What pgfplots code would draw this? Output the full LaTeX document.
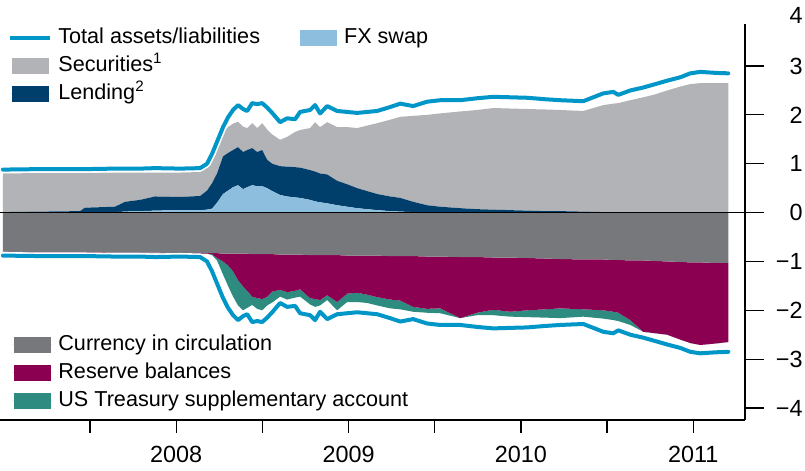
\documentclass[border=0pt]{standalone}
\usepackage{pgfplots}
\pgfplotsset{compat=1.18}
\usepackage{pgfplotstable}
\usepackage{fontspec}
\setmainfont{Liberation Sans}

\definecolor{totalblue}{RGB}{0,150,200}
\definecolor{secgrey}{RGB}{177,179,182}
\definecolor{lendnavy}{RGB}{0,62,107}
\definecolor{fxlight}{RGB}{142,190,222}
\definecolor{curgrey}{RGB}{119,120,124}
\definecolor{resmaroon}{RGB}{139,0,80}
\definecolor{tsyteal}{RGB}{46,139,128}

\pgfplotstableread{
year fx lend sec tot cur res tsy
2007.495 0.00 0.01 0.79 0.88 -0.80 -0.01 0.00
2007.710 0.00 0.02 0.79 0.89 -0.81 -0.01 0.00
2007.942 0.00 0.03 0.78 0.89 -0.81 -0.01 0.00
2007.971 0.01 0.09 0.71 0.89 -0.81 -0.01 0.00
2008.145 0.01 0.11 0.70 0.90 -0.82 -0.01 0.00
2008.203 0.02 0.20 0.60 0.90 -0.82 -0.01 0.00
2008.290 0.03 0.23 0.56 0.90 -0.82 -0.01 0.00
2008.378 0.04 0.29 0.49 0.91 -0.82 -0.01 0.00
2008.523 0.05 0.27 0.50 0.90 -0.83 -0.01 0.00
2008.639 0.05 0.29 0.49 0.91 -0.83 -0.01 0.00
2008.679 0.06 0.39 0.50 1.00 -0.83 -0.01 0.00
2008.708 0.08 0.52 0.55 1.20 -0.83 -0.02 -0.02
2008.737 0.20 0.60 0.55 1.45 -0.83 -0.10 -0.05
2008.772 0.38 0.77 0.50 1.75 -0.84 -0.16 -0.27
2008.801 0.45 0.77 0.53 1.95 -0.84 -0.24 -0.42
2008.830 0.52 0.76 0.54 2.10 -0.84 -0.36 -0.52
2008.859 0.56 0.78 0.52 2.20 -0.84 -0.54 -0.52
2008.888 0.48 0.76 0.52 2.12 -0.84 -0.67 -0.49
2008.912 0.52 0.76 0.45 2.08 -0.84 -0.76 -0.35
2008.941 0.56 0.76 0.51 2.24 -0.85 -0.87 -0.17
2008.970 0.54 0.70 0.49 2.22 -0.85 -0.90 -0.22
2008.999 0.54 0.74 0.55 2.24 -0.85 -0.92 -0.23
2009.028 0.50 0.58 0.62 2.15 -0.85 -0.87 -0.18
2009.057 0.44 0.56 0.60 2.04 -0.85 -0.77 -0.22
2009.103 0.36 0.59 0.54 1.85 -0.86 -0.72 -0.14
2009.144 0.33 0.61 0.61 1.93 -0.86 -0.77 -0.15
2009.190 0.31 0.62 0.72 1.91 -0.86 -0.74 -0.14
2009.219 0.30 0.62 0.77 2.06 -0.86 -0.71 -0.15
2009.277 0.26 0.61 0.86 2.10 -0.87 -0.88 -0.13
2009.306 0.23 0.61 1.01 2.20 -0.87 -0.90 -0.16
2009.335 0.21 0.59 0.95 2.03 -0.87 -0.92 -0.11
2009.376 0.19 0.59 1.07 2.18 -0.87 -0.82 -0.10
2009.434 0.15 0.50 1.10 2.08 -0.87 -0.96 -0.17
2009.492 0.12 0.46 1.17 2.06 -0.88 -0.78 -0.17
2009.550 0.09 0.41 1.23 2.04 -0.88 -0.76 -0.19
2009.608 0.07 0.37 1.34 2.06 -0.88 -0.80 -0.17
2009.666 0.05 0.33 1.45 2.08 -0.88 -0.85 -0.17
2009.741 0.03 0.30 1.57 2.16 -0.89 -0.89 -0.18
2009.800 0.02 0.28 1.66 2.23 -0.89 -0.91 -0.18
2009.875 0.01 0.21 1.76 2.18 -0.89 -1.04 -0.10
2009.956 0.00 0.15 1.85 2.27 -0.90 -1.07 -0.08
2010.032 0.00 0.12 1.91 2.30 -0.90 -1.06 -0.10
2010.148 0.00 0.09 1.98 2.30 -0.91 -1.25 0.00
2010.246 0.00 0.07 2.03 2.34 -0.91 -1.14 -0.05
2010.339 0.00 0.06 2.08 2.37 -0.92 -1.07 -0.11
2010.438 0.00 0.05 2.08 2.36 -0.92 -1.11 -0.10
2010.537 0.00 0.04 2.08 2.35 -0.93 -1.07 -0.14
2010.641 0.00 0.03 2.08 2.32 -0.94 -1.04 -0.17
2010.728 0.00 0.03 2.07 2.30 -0.95 -1.01 -0.20
2010.862 0.00 0.02 2.06 2.28 -0.96 -1.02 -0.15
2010.978 0.00 0.01 2.19 2.44 -0.96 -1.04 -0.17
2011.036 0.00 0.01 2.22 2.47 -0.97 -1.06 -0.17
2011.065 0.00 0.01 2.23 2.41 -0.97 -1.08 -0.17
2011.135 0.00 0.00 2.30 2.50 -0.98 -1.22 -0.10
2011.210 0.00 0.00 2.36 2.56 -0.98 -1.46 0.00
2011.280 0.00 0.00 2.42 2.63 -0.99 -1.48 0.00
2011.349 0.00 0.00 2.50 2.70 -1.00 -1.50 0.00
2011.425 0.00 0.00 2.58 2.77 -1.01 -1.59 0.00
2011.483 0.00 0.00 2.63 2.85 -1.02 -1.65 0.00
2011.541 0.00 0.00 2.65 2.88 -1.02 -1.69 0.00
2011.628 0.00 0.00 2.65 2.86 -1.03 -1.65 0.00
2011.703 0.00 0.00 2.65 2.85 -1.03 -1.62 0.00
}\data

\newcommand{\legsz}{\fontsize{10.8}{13}\selectfont}
\newcommand{\ticksz}{\fontsize{11.7}{14}\selectfont}

\pgfplotsset{
  /pgfplots/area legend/.style={/pgfplots/legend image code/.code={\path (0pt,0pt) -- (20pt,0pt);\fill[##1] (0.75pt,-4pt) rectangle (19.25pt,4pt);}},
  myline legend/.style={/pgfplots/legend image code/.code={\draw[##1] (0pt,0pt) -- (20pt,0pt);}},
  base/.style={scale only axis, width=372.5pt, height=198pt,
    xmin=2007.478, xmax=2011.80, ymin=-4.245, ymax=3.86},
  mylegend/.style={legend style={draw=none, fill=none, inner sep=0pt, font=\legsz,
    row sep=0.5pt, legend cell align=left,
    nodes={inner sep=1.5pt, text height=8pt, text depth=2.5pt},
    /tikz/every odd column/.append style={column sep=1.5pt},
    /tikz/every even column/.append style={column sep=17.5pt}}},
}

\begin{document}
\begin{tikzpicture}
% positive stack
\begin{axis}[base, hide axis, stack plots=y, mylegend,
  legend columns=2,
  legend style={at={(rel axis cs:0,1)}, anchor=north west, xshift=4pt}]
\addplot[fill=fxlight, draw=none, forget plot] table[x=year, y=fx]{\data} \closedcycle;
\addplot[fill=lendnavy, draw=none, forget plot] table[x=year, y=lend]{\data} \closedcycle;
\addplot[fill=secgrey, draw=none, forget plot] table[x=year, y=sec]{\data} \closedcycle;
\addlegendimage{myline legend, totalblue, line width=2pt}
\addlegendentry{Total assets/liabilities}
\addlegendimage{area legend, fill=fxlight, draw=none}
\addlegendentry{FX swap}
\addlegendimage{area legend, fill=secgrey, draw=none}
\addlegendentry{Securities\textsuperscript{1}}
\addlegendimage{empty legend}
\addlegendentry{}
\addlegendimage{area legend, fill=lendnavy, draw=none}
\addlegendentry{Lending\textsuperscript{2}}
\end{axis}
% negative stack
\begin{axis}[base, hide axis, stack plots=y, mylegend,
  legend style={at={(rel axis cs:0,0)}, anchor=south west, xshift=6pt, yshift=2.75pt}]
\addplot[fill=curgrey, draw=none, forget plot] table[x=year, y=cur]{\data} \closedcycle;
\addplot[fill=resmaroon, draw=none, forget plot] table[x=year, y=res]{\data} \closedcycle;
\addplot[fill=tsyteal, draw=none, forget plot] table[x=year, y=tsy]{\data} \closedcycle;
\addlegendimage{area legend, fill=curgrey, draw=none}
\addlegendentry{Currency in circulation}
\addlegendimage{area legend, fill=resmaroon, draw=none}
\addlegendentry{Reserve balances}
\addlegendimage{area legend, fill=tsyteal, draw=none}
\addlegendentry{US Treasury supplementary account}
\end{axis}
% frame and lines
\begin{axis}[base, clip=false,
  axis x line=bottom, axis y line=right,
  axis line style={-, line width=0.6pt, black},
  tick align=outside,
  major tick length=9.5pt,
  tick style={black, line width=0.6pt},
  xtick={2008,2009,2010,2011}, xticklabels={},
  xtick style={/pgfplots/major tick length=6.5pt},
  extra x ticks={2008.5,2009.5,2010.5,2011.5},
  extra x tick labels={2008,2009,2010,2011},
  extra x tick style={major tick length=0pt},
  xticklabel style={font=\ticksz, anchor=center, yshift=-17pt},
  ytick={-4,-3,-2,-1,0,1,2,3},
  yticklabels={−4,−3,−2,−1,0,1,2,3},
  yticklabel style={font=\ticksz, anchor=east, inner xsep=0pt, xshift=19.5pt},
]
\draw[black, line width=0.6pt] (axis cs:2007.478,0) -- (axis cs:2011.80,0);
\addplot[white, line width=3.6pt, line join=round] table[x=year, y=tot]{\data};
\addplot[totalblue, line width=2pt, line join=round, line cap=round] table[x=year, y=tot]{\data};
\addplot[white, line width=3.6pt, line join=round] table[x=year, y expr=-\thisrow{tot}]{\data};
\addplot[totalblue, line width=2pt, line join=round, line cap=round] table[x=year, y expr=-\thisrow{tot}]{\data};
\coordinate (bl) at (rel axis cs:0,0);
\coordinate (rx) at (rel axis cs:1,0);
\coordinate (y4) at (axis cs:2009,4);
\end{axis}
\node[anchor=east, inner xsep=0pt, font=\ticksz, xshift=29pt, yshift=1pt] at (rx |- y4) {4};
\pgfresetboundingbox
\path[use as bounding box] ([yshift=-25.5pt]bl) rectangle ++(402.5pt,235.5pt);
\end{tikzpicture}
\end{document}
